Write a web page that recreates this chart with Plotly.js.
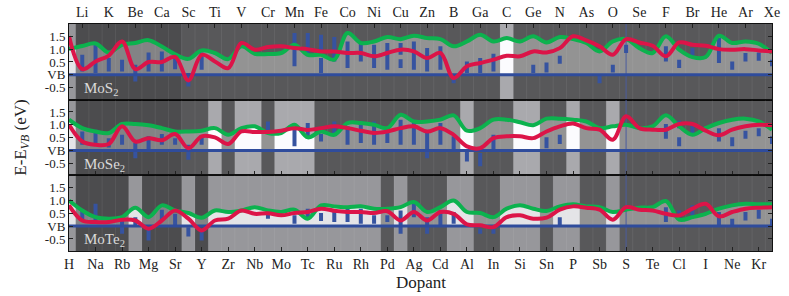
<!DOCTYPE html>
<html><head><meta charset="utf-8">
<script src="https://cdn.plot.ly/plotly-3.0.1.min.js"></script>
<style>html,body{margin:0;padding:0;background:#fff}</style>
</head><body><div id="chart" style="width:789px;height:296px"></div>
<script>
const dopants = ['H','Li','Na','K','Rb','Be','Mg','Ca','Sr','Sc','Y','Ti','Zr','V','Nb','Cr','Mo','Mn','Tc','Fe','Ru','Co','Rh','Ni','Pd','Cu','Ag','Zn','Cd','B','Al','Ga','In','C','Si','Ge','Sn','N','P','As','Sb','O','S','Se','Te','F','Cl','Br','I','He','Ne','Ar','Kr','Xe'];

const mos2Green = [1.0,1.12,1.22,0.87,1.17,1.24,1.35,1.1,0.8,0.62,0.95,0.85,0.61,1.11,0.82,0.81,0.85,1.17,0.78,0.78,0.59,1.63,1.24,1.30,1.47,1.39,1.52,1.43,1.39,1.11,1.30,1.56,1.30,1.43,1.30,1.5,1.26,1.47,1.39,1.24,0.91,1.30,1.39,1.04,0.85,1.5,0.98,0.69,0.69,1.52,1.24,1.30,1.21,0.85];
const mos2Red = [1.5,0.22,0.52,0.75,1.3,0.22,0.5,0.5,0.7,-0.22,0.78,0.52,0.26,1.24,0.98,1.08,1.11,1.04,1.0,0.91,0.91,0.85,0.85,0.72,0.85,0.98,0.91,0.65,0.85,-0.13,0.33,0.46,0.59,0.74,0.72,0.91,0.87,1.04,1.5,1.34,1.11,0.78,1.39,1.26,1.13,0.72,1.26,1.17,1.13,1.0,0.98,1.0,0.95,0.91];

const mose2Green = [1.2,0.87,0.74,0.68,1.03,1.03,0.98,0.87,0.74,0.74,0.77,0.87,0.61,0.87,0.94,0.68,0.68,1.0,0.51,0.74,0.61,1.07,1.07,1.0,0.87,1.39,1.13,1.13,1.2,1.37,0.77,0.87,1.2,1.2,1.1,0.98,1.24,1.24,1.2,1.13,0.87,0.94,1.0,0.87,0.94,1.37,0.94,0.61,0.87,1.07,1.2,1.24,1.13,0.81];
const mose2Red = [1.0,0.35,0.22,0.25,0.94,0.35,0.48,0.4,0.64,0.09,0.55,0.51,0.25,0.74,0.72,0.72,0.77,0.87,0.8,0.87,0.94,0.87,0.77,0.68,0.74,0.87,0.94,0.74,0.87,0.61,0.16,0.09,0.48,0.55,0.55,0.48,0.74,0.94,1.05,0.87,0.81,0.42,1.33,0.87,0.81,0.81,1.03,1.03,0.77,0.59,0.81,0.94,1.0,0.98];

const mote2Green = [1.0,0.61,0.35,0.29,0.35,0.72,0.35,0.81,0.61,0.51,0.33,0.61,0.55,0.61,0.74,0.61,0.55,0.64,0.29,0.81,0.77,0.74,0.77,0.68,0.68,0.74,0.94,0.55,0.74,1.0,0.55,0.51,0.35,0.68,0.81,0.68,0.59,0.77,0.85,0.77,0.74,0.55,0.64,0.72,0.74,0.98,0.25,0.35,0.48,0.68,0.81,0.87,0.85,0.85];
const mote2Red = [0.81,0.22,0.16,0.16,0.25,0.22,-0.1,0.22,0.61,0.29,-0.17,0.22,0.29,0.61,0.48,0.5,0.42,0.51,0.55,0.68,0.6,0.55,0.55,0.51,0.58,0.22,0.55,0.22,0.55,0.48,0.07,0.03,-0.04,0.35,0.42,0.29,0.33,0.64,0.77,0.72,0.64,0.25,0.74,0.64,0.61,0.48,0.42,0.68,0.87,0.38,0.55,0.68,0.72,0.74];

// defect levels: [dopant, low, high]
const mos2Levels = [['Li',0.13,0.78],['Na',0.07,1.17],['K',0.13,0.65],['Rb',0.13,0.59],['Be',-0.26,0.39],['Mg',0.13,0.87],['Ca',0.13,0.91],['Sr',0.22,0.65],['Sc',-0.46,0.07],['Y',0.2,0.87],
['Mn',0.33,1.63],['Tc',0.72,1.63],['Fe',0.85,1.56],['Fe',0.07,0.65],['Ru',0.52,1.47],['Co',0.26,1.30],['Rh',0.52,1.24],['Ni',0.26,1.17],['Pd',0.2,1.24],['Cu',0.78,1.24],['Cu',0.26,0.61],['Ag',0.2,1.3],['Zn',0.13,1.04],['Cd',0.2,1.11],['B',-0.33,-0.07],['Al',0.07,0.52],['Ga',0.07,0.65],['In',0.13,0.82],
['Ge',0.07,0.39],['Sn',0.09,0.48],['N',0.43,0.74],['Sb',-0.33,-0.04],['O',0.09,0.39],['S',0.85,1.17],['F',0.52,1.11],['Cl',0.26,0.59],['Br',0.74,1.04],['He',0.46,1.43],['Ne',0.2,0.52],['Ar',0.52,0.85],['Kr',0.55,0.87],['Xe',0.33,0.59]];
const mose2Levels = [['Li',0.22,0.74],['Na',0.22,0.81],['K',0.12,0.48],['Rb',0.22,0.61],['Be',-0.3,0.29],['Mg',-0.04,0.55],['Ca',0.22,0.64],['Sr',0.22,0.48],['Sc',-0.36,0.22],['Y',0.22,0.59],
['Cr',0.64,1.13],['Mn',0.16,0.87],['Tc',0.48,1.07],['Fe',0.35,0.64],['Ru',0.61,1.13],['Co',0.22,0.94],['Rh',0.29,1.13],['Ni',0.22,1.13],['Pd',0.29,0.81],['Cu',0.22,1.2],['Ag',0.22,1.2],['Zn',-0.3,0.74],['Cd',0.22,1.07],['B',0.03,0.55],['Al',-0.43,-0.04],['Ga',-0.62,-0.1],['In',0.03,0.61],
['Sn',0.09,0.51],['N',0.25,0.61],['F',0.46,1.03],['Cl',0.87,1.16],['Cl',0.16,0.51],['Br',0.68,1.0],['He',0.35,0.87],['Ne',0.16,0.51],['Ar',0.46,0.77],['Kr',0.55,0.87],['Xe',0.25,0.55]];
const mote2Levels = [['Li',0.22,0.61],['Na',0.22,0.87],['Rb',-0.3,0.22],['Be',0.03,0.35],['Mg',-0.56,-0.14],['Ca',0.22,0.64],['Sr',0.03,0.48],['Sc',-0.4,-0.04],['Y',-0.56,-0.1],
['Cr',0.29,0.64],['Mn',0.09,0.42],['Tc',0.35,0.68],['Fe',0.2,0.51],['Ru',0.16,0.61],['Co',0.16,0.68],['Rh',0.09,0.68],['Ni',0.09,0.42],['Pd',0.16,0.42],['Cu',-0.3,0.61],['Ag',0.35,0.94],['Zn',-0.3,0.35],['Cd',0.03,0.64],['B',0.09,0.55],['Ga',-0.3,-0.1],['In',-0.3,-0.1],
['N',0.03,0.35],['F',0.16,0.74],['Cl',0.35,0.61],['Br',0.42,0.81],['He',0.03,0.55],['Ne',0.03,0.29],['Ar',0.22,0.55],['Kr',0.29,0.64],['Xe',0.03,0.29]];

// column shading class per dopant: D very dark, d dark, m medium, l light
const mos2Shade  = 'mDDDDDDDDddddddddddddddddddddddddlddddddddddddddddddd'.split('');
const mose2Shade = 'mDDDDDDDDddldlldllldddddddddddldddllddlddldddddddddddd'.split('');
const mote2Shade = 'mDDDDmDDDmDmmmmmmmmmmmmmdmdddmmddmmmdmmddmdddddddddddd'.split('');

const panelNames = ['MoS<sub>2</sub>','MoSe<sub>2</sub>','MoTe<sub>2</sub>'];
const vbTickVals = [-0.5,0,0.5,1.0,1.5];
const vbTickText = ['-0.5','VB','0.5','1.0','1.5'];
const markerDopant = 'S';

const panels = [
  {green:mos2Green, red:mos2Red, levels:mos2Levels, shade:mos2Shade, xa:'x', ya:'y'},
  {green:mose2Green, red:mose2Red, levels:mose2Levels, shade:mose2Shade, xa:'x2', ya:'y2'},
  {green:mote2Green, red:mote2Red, levels:mote2Levels, shade:mote2Shade, xa:'x3', ya:'y3'}
];
panels.forEach(p=>{ while(p.shade.length<dopants.length) p.shade.push('d'); p.shade.length = dopants.length; });

const X = dopants.map((d,i)=>i);
const idx = d => dopants.indexOf(d);
const yLo = -1.5, yHi = 2.5;
const alpha = {D:0.55, d:0.48, m:0.1};
const traces = [];
const base = {hoverinfo:'skip', showlegend:false};

panels.forEach(p=>{
  const ax = {xaxis:p.xa, yaxis:p.ya};
  const addFill = color => {
    traces.push(Object.assign({x:X, y:X.map(()=>0), mode:'lines', line:{width:0}}, ax, base));
    traces.push(Object.assign({x:X, y:p.green, mode:'lines', line:{width:0, shape:'spline', smoothing:1}, fill:'tonexty', fillcolor:color}, ax, base));
  };
  addFill('#fbfbfe');
  Object.keys(alpha).forEach(k=>{
    const xs=[], ys=[];
    p.shade.forEach((c,i)=>{ if(c===k){ xs.push(i-0.5,i+0.5,i+0.5,i-0.5,i-0.5,null); ys.push(yLo,yLo,yHi,yHi,yLo,null);} });
    if(xs.length) traces.push(Object.assign({x:xs, y:ys, mode:'none', fill:'toself', fillcolor:'rgba(0,0,0,'+alpha[k]+')'}, ax, base));
  });
  addFill('rgba(255,255,255,0.13)');
  const sx=[], sy=[];
  X.forEach(i=>{ sx.push(i+0.5,i+0.5,null); sy.push(yLo,yHi,null); });
  traces.push(Object.assign({x:sx, y:sy, mode:'lines', line:{width:1, color:'rgba(255,255,255,0.07)'}}, ax, base));
  const mi = idx(markerDopant);
  traces.push(Object.assign({x:[mi,mi], y:[yLo,yHi], mode:'lines', line:{width:1, color:'#4a5c9e'}}, ax, base));
  const bx=[], by=[];
  p.levels.forEach(([d,lo,hi])=>{ const i=idx(d); bx.push(i,i,null); by.push(lo,hi,null); });
  traces.push(Object.assign({x:bx, y:by, mode:'lines', line:{width:4, color:'#3653a0'}}, ax, base));
  traces.push(Object.assign({x:[X[0],X[X.length-1]], y:[0,0], mode:'lines', line:{width:3, color:'#2f4c9c'}}, ax, base));
  traces.push(Object.assign({x:X, y:p.green, mode:'lines', line:{width:4, color:'#0cb24e', shape:'spline', smoothing:1}}, ax, base));
  traces.push(Object.assign({x:X, y:p.red, mode:'lines', line:{width:4, color:'#dc1448', shape:'spline', smoothing:1}}, ax, base));
});

const font = {family:'Liberation Serif, Times New Roman, serif', size:14, color:'#222'};
const yFont = {family:font.family, size:13, color:'#222'};
const oddV = X.filter(i=>i%2===1), evenV = X.filter(i=>i%2===0);
const xCommon = {range:[0,dopants.length-1], showgrid:false, zeroline:false, showline:true, linecolor:'#111', linewidth:1, mirror:true, ticks:'inside', ticklen:4, tickcolor:'#222', tickfont:font};
const yCommon = {range:[-0.97,1.98], showgrid:false, zeroline:false, showline:true, linecolor:'#111', linewidth:1, mirror:'ticks', ticks:'inside', ticklen:4, tickcolor:'#222', tickvals:vbTickVals, ticktext:vbTickText, tickfont:yFont};

const layout = {
  width:789, height:296,
  margin:{l:69, r:17, t:24, b:45},
  paper_bgcolor:'#fff', plot_bgcolor:'#a9a9ad',
  showlegend:false,
  xaxis: Object.assign({}, xCommon, {anchor:'y', side:'top', tickvals:oddV, ticktext:oddV.map(i=>dopants[i])}),
  xaxis2: Object.assign({}, xCommon, {anchor:'y2', matches:'x', tickvals:evenV, ticktext:evenV.map(i=>dopants[i]), showticklabels:false}),
  xaxis3: Object.assign({}, xCommon, {anchor:'y3', matches:'x', tickvals:evenV, ticktext:evenV.map(i=>dopants[i])}),
  yaxis: Object.assign({}, yCommon, {domain:[0.6667,1], anchor:'x'}),
  yaxis2: Object.assign({}, yCommon, {domain:[0.3333,0.6667], anchor:'x2'}),
  yaxis3: Object.assign({}, yCommon, {domain:[0,0.3333], anchor:'x3'}),
  annotations: [
    {text:'E-E<sub><i>VB</i></sub> (eV)', xref:'paper', yref:'paper', x:-0.068, y:0.5, xanchor:'center', yanchor:'middle', textangle:-90, showarrow:false, font:{family:font.family, size:17, color:'#222'}},
    {text:'Dopant', xref:'paper', yref:'paper', x:0.5, y:-0.14, xanchor:'center', yanchor:'middle', showarrow:false, font:{family:font.family, size:17, color:'#222'}}
  ].concat(panelNames.map((n,k)=>({text:n, xref:'paper', yref:['y','y2','y3'][k], x:0.018, y:-0.55, xanchor:'left', yanchor:'middle', showarrow:false, font:{family:font.family, size:15, color:'#dadada'}})))
};

Plotly.newPlot('chart', traces, layout, {staticPlot:true, displayModeBar:false});
</script></body></html>
